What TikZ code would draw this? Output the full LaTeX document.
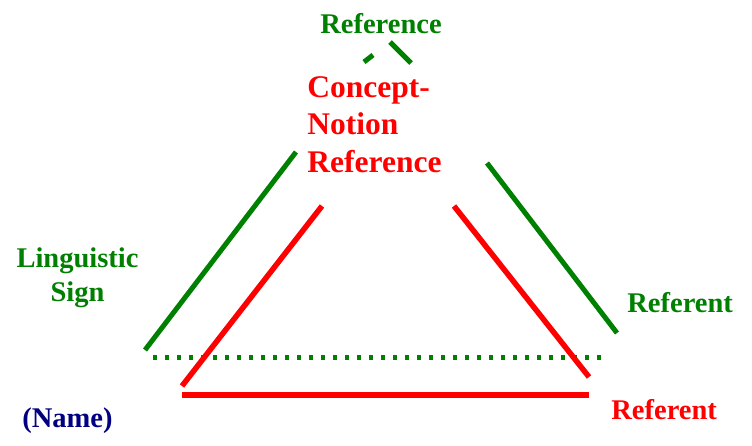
\documentclass[tikz,border=0pt]{standalone}
\usepackage{fontspec}
\setmainfont{Liberation Serif}
\usepackage{xcolor}
\definecolor{signgreen}{HTML}{008000}
\definecolor{notionred}{HTML}{FF0000}
\definecolor{namenavy}{HTML}{000080}
\usetikzlibrary{positioning}

\begin{document}
\begin{tikzpicture}[x=1pt, y=-1pt, thick]
    % Styles
    \tikzstyle{green label} = [inner sep=0, text=signgreen, font=\bfseries\fontsize{28.5}{34}\selectfont, align=center]
    \tikzstyle{red label} = [inner sep=0, text=notionred, font=\bfseries\fontsize{31.5}{37.5}\selectfont, align=left]
    \tikzstyle{name label} = [inner sep=0, text=namenavy, font=\bfseries\fontsize{28.5}{34}\selectfont]
    \tikzstyle{green line} = [draw=signgreen, line width=5pt]
    \tikzstyle{red line} = [draw=notionred, line width=5.5pt]
    \tikzstyle{dotted line} = [draw=signgreen, line width=5pt, dash pattern=on 4pt off 8pt]

    \useasboundingbox (0,0) rectangle (752,445);

    % Labels
    \node [green label, anchor=base] (Ref) at (381,33) {Reference};
    \node [red label, anchor=base west] (Notion) at (307,172) {Concept-\\Notion\\Reference};
    \node [green label, anchor=base] (Sign) at (77.5,301) {Linguistic\\Sign};
    \node [name label, anchor=base west] (Name) at (22,427) {(Name)};
    \node [green label, anchor=base west] (GRefnt) at (627,312) {Referent};
    \node [red label, anchor=base west, font=\bfseries\fontsize{28.5}{34}\selectfont] (RRefnt) at (611,419) {Referent};

    % Green triangle
    \coordinate (GL1) at (145,350);
    \coordinate (GL2) at (296,152);
    \coordinate (GL3) at (364,62);
    \coordinate (GL4) at (373,55);
    \coordinate (GR1) at (390,42);
    \coordinate (GR2) at (411,63);
    \coordinate (GR3) at (487,163);
    \coordinate (GR4) at (617,333);
    \coordinate (GB1) at (153,357.5);
    \coordinate (GB2) at (604,357.5);

    % Red triangle
    \coordinate (RL1) at (182,386);
    \coordinate (RL2) at (322,206);
    \coordinate (RR1) at (454,206);
    \coordinate (RR2) at (589,377);
    \coordinate (RB1) at (182,395);
    \coordinate (RB2) at (589,395);

    % Connections
    \draw [green line] (GL1) -- (GL2);
    \draw [green line] (GL3) -- (GL4);
    \draw [green line] (GR1) -- (GR2);
    \draw [green line] (GR3) -- (GR4);
    \draw [dotted line] (GB1) -- (GB2);
    \draw [red line] (RL1) -- (RL2);
    \draw [red line] (RR1) -- (RR2);
    \draw [red line] (RB1) -- (RB2);
\end{tikzpicture}
\end{document}
